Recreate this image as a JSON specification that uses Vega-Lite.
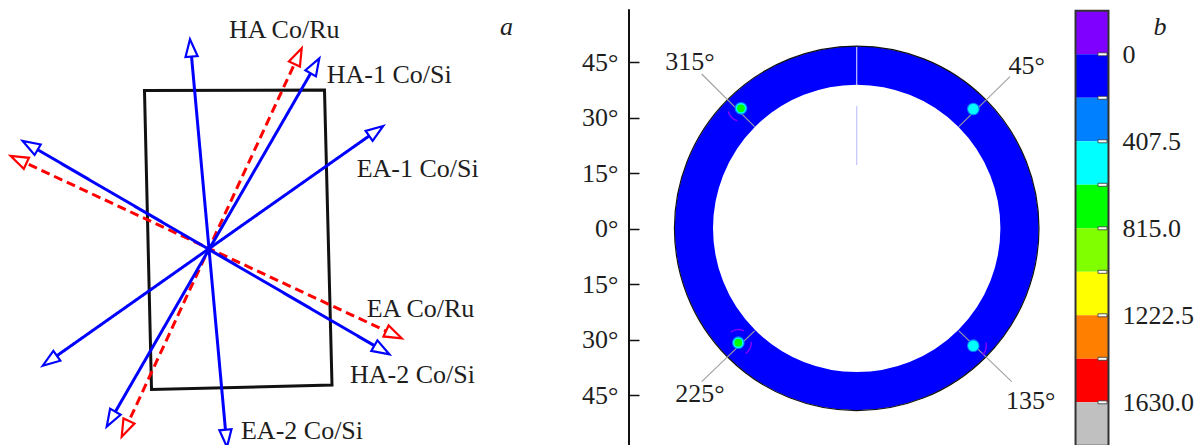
{
  "$schema": "https://vega.github.io/schema/vega-lite/v6.json",
  "width": 1194,
  "height": 445,
  "autosize": {"type": "none"},
  "padding": 0,
  "background": "white",
  "config": {"view": {"stroke": null}, "font": "Liberation Serif"},
  "resolve": {"scale": {"y": "independent"}},
  "layer": [
    {
      "encoding": {
        "x": {"field": "x", "type": "quantitative", "scale": {"domain": [-231.54, 91.16], "nice": false, "zero": false}, "axis": null},
        "y": {"field": "y", "type": "quantitative", "scale": {"domain": [-58.46, 61.81], "nice": false, "zero": false},
          "axis": {"orient": "left", "offset": -629, "values": [-45, -30, -15, 0, 15, 30, 45], "labelExpr": "abs(datum.value) + '°'", "domain": false, "grid": false, "ticks": true, "tickSize": -10, "tickWidth": 1.5, "tickColor": "#111", "labelPadding": 21, "labelFont": "Liberation Serif", "labelFontSize": 26, "labelColor": "#1e1e1e", "title": null, "labelBaseline": "middle"}}
      },
      "layer": [
        {
          "data": {"values": [
            {"x": -192.49, "y": 37.35, "o": 1},
            {"x": -143.84, "y": 37.49, "o": 2},
            {"x": -141.81, "y": -42.24, "o": 3},
            {"x": -190.59, "y": -43.46, "o": 4},
            {"x": -192.49, "y": 37.35, "o": 5}
          ]},
          "mark": {"type": "line", "color": "#111", "strokeWidth": 3, "strokeJoin": "miter", "strokeCap": "square"},
          "encoding": {"order": {"field": "o", "type": "quantitative"}}
        },
        {
          "data": {"values": [
            {"x": -150.67, "y": 47.31, "x2": -197.98, "y2": -54.77, "kind": "Co/Ru"},
            {"x": -227.20, "y": 18.97, "x2": -124.42, "y2": -28.94, "kind": "Co/Ru"},
            {"x": -180.05, "y": 49.60, "x2": -170.33, "y2": -57.41, "kind": "Co/Si"},
            {"x": -146.04, "y": 44.66, "x2": -201.90, "y2": -52.12, "kind": "Co/Si"},
            {"x": -129.26, "y": 26.84, "x2": -218.69, "y2": -36.11, "kind": "Co/Si"},
            {"x": -224.03, "y": 22.90, "x2": -127.70, "y2": -33.15, "kind": "Co/Si"}
          ]},
          "mark": {"type": "rule", "strokeWidth": 3},
          "encoding": {
            "x2": {"field": "x2"},
            "y2": {"field": "y2"},
            "stroke": {"field": "kind", "type": "nominal", "scale": {"domain": ["Co/Si", "Co/Ru"], "range": ["#0000ff", "#ff0000"]}, "legend": null},
            "strokeDash": {"field": "kind", "type": "nominal", "scale": {"domain": ["Co/Si", "Co/Ru"], "range": [[1, 0], [9, 5]]}, "legend": null}
          }
        },
        {
          "data": {"values": [
            {"x": -180.19, "y": 51.19, "angle": -5.19, "kind": "Co/Si"},
            {"x": -170.19, "y": -59.0, "angle": 174.81, "kind": "Co/Si"},
            {"x": -145.24, "y": 46.05, "angle": 30, "kind": "Co/Si"},
            {"x": -202.70, "y": -53.51, "angle": 210, "kind": "Co/Si"},
            {"x": -150.0, "y": 48.76, "angle": 24.86, "kind": "Co/Ru"},
            {"x": -198.65, "y": -56.22, "angle": 204.86, "kind": "Co/Ru"},
            {"x": -127.95, "y": 27.76, "angle": 54.86, "kind": "Co/Si"},
            {"x": -220.0, "y": -37.03, "angle": 234.86, "kind": "Co/Si"},
            {"x": -225.41, "y": 23.70, "angle": -59.81, "kind": "Co/Si"},
            {"x": -126.32, "y": -33.95, "angle": 120.19, "kind": "Co/Si"},
            {"x": -228.65, "y": 19.65, "angle": -65.01, "kind": "Co/Ru"},
            {"x": -122.97, "y": -29.62, "angle": 114.99, "kind": "Co/Ru"}
          ]},
          "mark": {"type": "point", "shape": "M0,0L-0.7,2L0.7,2Z", "size": 300, "filled": true, "fill": "white", "strokeWidth": 2.2, "opacity": 1},
          "encoding": {
            "angle": {"field": "angle", "type": "quantitative", "scale": null},
            "stroke": {"field": "kind", "type": "nominal", "scale": {"domain": ["Co/Si", "Co/Ru"], "range": ["#0000ff", "#ff0000"]}, "legend": null}
          }
        },
        {
          "data": {"values": [
            {"x": -169.65, "y": 51.41, "t": "HA Co/Ru"},
            {"x": -143.24, "y": 39.30, "t": "HA-1 Co/Si"},
            {"x": -135.14, "y": 14.05, "t": "EA-1 Co/Si"},
            {"x": -132.43, "y": -23.78, "t": "EA Co/Ru"},
            {"x": -136.95, "y": -41.78, "t": "HA-2 Co/Si"},
            {"x": -166.41, "y": -56.9, "t": "EA-2 Co/Si"}
          ]},
          "mark": {"type": "text", "align": "left", "baseline": "alphabetic", "fontSize": 26, "font": "Liberation Serif", "color": "#1e1e1e"},
          "encoding": {"text": {"field": "t"}}
        },
        {
          "data": {"values": [
            {"x": -94.65, "y": 52.35, "t": "a"},
            {"x": 81.97, "y": 52.35, "t": "b"}
          ]},
          "mark": {"type": "text", "align": "center", "baseline": "alphabetic", "fontSize": 26, "fontStyle": "italic", "font": "Liberation Serif", "color": "#1e1e1e"},
          "encoding": {"text": {"field": "t"}}
        },
        {
          "data": {"values": [{"x": -61.54, "y": 59.3, "y2": -60}]},
          "mark": {"type": "rule", "color": "#111", "strokeWidth": 2},
          "encoding": {"y2": {"field": "y2"}}
        },
        {
          "data": {"values": [{"x": 0, "y": 0.1, "level": 0}]},
          "mark": {"type": "point", "shape": "circle", "filled": false, "size": 106080, "strokeWidth": 38.3, "opacity": 1},
          "encoding": {"color": {"field": "level", "type": "ordinal", "scale": {"domain": [-203.75, 0, 203.75, 407.5, 611.25, 815, 1018.75, 1222.5, 1426.25, 1630], "range": ["#8000ff", "#0000ff", "#0080ff", "#00ffff", "#00ff00", "#80ff00", "#ffff00", "#ff8000", "#ff0000", "#c0c0c0"]}, "legend": null}}
        },
        {
          "data": {"values": [{"x": 0, "y": 0.1}]},
          "mark": {"type": "point", "shape": "circle", "filled": false, "size": 132900, "strokeWidth": 1.2, "color": "#111", "opacity": 1}
        },
        {
          "data": {"values": [{"x": 0, "y": 49.1, "y2": 38.84}, {"x": 0, "y": 33.16, "y2": 17.22}]},
          "mark": {"type": "rule", "color": "#c4c4ff", "strokeWidth": 1.2},
          "encoding": {"y2": {"field": "y2"}}
        },
        {
          "data": {"values": [
            {"x": -41.89, "y": 41.81, "x2": -27.6, "y2": 27.6},
            {"x": 41.43, "y": 41.08, "x2": 27.6, "y2": 27.6},
            {"x": -41.89, "y": -41.35, "x2": -27.6, "y2": -27.6},
            {"x": 41.89, "y": -41.35, "x2": 27.6, "y2": -27.6}
          ]},
          "mark": {"type": "rule", "color": "#a0a0a0", "strokeWidth": 1.1},
          "encoding": {"x2": {"field": "x2"}, "y2": {"field": "y2"}}
        },
        {
          "data": {"values": [
            {"x": -31.27, "y": 32.54, "level": 203.75},
            {"x": 31.51, "y": 32.35, "level": 203.75},
            {"x": -32.0, "y": -30.81, "level": 203.75},
            {"x": 31.51, "y": -31.62, "level": 203.75},
            {"x": -31.27, "y": 32.54, "level": 407.5},
            {"x": 31.51, "y": 32.35, "level": 407.5},
            {"x": -32.0, "y": -30.81, "level": 407.5},
            {"x": 31.51, "y": -31.62, "level": 407.5},
            {"x": -31.27, "y": 32.54, "level": 611.25},
            {"x": -32.0, "y": -30.81, "level": 611.25}
          ]},
          "mark": {"type": "point", "shape": "circle", "filled": true, "opacity": 1, "strokeWidth": 0},
          "encoding": {
            "color": {"field": "level", "type": "ordinal", "scale": {"domain": [-203.75, 0, 203.75, 407.5, 611.25, 815, 1018.75, 1222.5, 1426.25, 1630], "range": ["#8000ff", "#0000ff", "#0080ff", "#00ffff", "#00ff00", "#80ff00", "#ffff00", "#ff8000", "#ff0000", "#c0c0c0"]}, "legend": null},
            "size": {"field": "level", "type": "ordinal", "scale": {"domain": [203.75, 407.5, 611.25], "range": [160, 60, 12]}, "legend": null}
          }
        },
        {
          "data": {"values": [
            {"x": -31.27, "y": 32.54, "angle": 136.5, "level": -203.75},
            {"x": -32.0, "y": -30.81, "angle": -95, "level": -203.75},
            {"x": -32.0, "y": -30.81, "angle": 26.5, "level": -203.75},
            {"x": 31.51, "y": -31.62, "angle": 15, "level": -203.75}
          ]},
          "mark": {"type": "point", "shape": "M0.866,-0.5A1,1 0 0 1 0.866,0.5", "filled": false, "size": 676, "strokeWidth": 1.5, "opacity": 1},
          "encoding": {
            "angle": {"field": "angle", "type": "quantitative", "scale": null},
            "color": {"field": "level", "type": "ordinal", "scale": {"domain": [-203.75, 0, 203.75, 407.5, 611.25, 815, 1018.75, 1222.5, 1426.25, 1630], "range": ["#8000ff", "#0000ff", "#0080ff", "#00ffff", "#00ff00", "#80ff00", "#ffff00", "#ff8000", "#ff0000", "#c0c0c0"]}, "legend": null}
          }
        },
        {
          "data": {"values": [
            {"x": -45.05, "y": 42.89, "t": "315°"},
            {"x": 45.95, "y": 41.81, "t": "45°"},
            {"x": -42.35, "y": -46.76, "t": "225°"},
            {"x": 47.05, "y": -48.81, "t": "135°"}
          ]},
          "mark": {"type": "text", "align": "center", "baseline": "alphabetic", "fontSize": 26, "font": "Liberation Serif", "color": "#1e1e1e"},
          "encoding": {"text": {"field": "t"}}
        }
      ]
    },
    {
      "layer": [
        {
          "data": {"values": [
            {"level": -203.75, "hi": 0},
            {"level": 0, "hi": 203.75},
            {"level": 203.75, "hi": 407.5},
            {"level": 407.5, "hi": 611.25},
            {"level": 611.25, "hi": 815},
            {"level": 815, "hi": 1018.75},
            {"level": 1018.75, "hi": 1222.5},
            {"level": 1222.5, "hi": 1426.25},
            {"level": 1426.25, "hi": 1630},
            {"level": 1630, "hi": 1833.75}
          ]},
          "mark": {"type": "rect"},
          "encoding": {
            "x": {"datum": 59.14, "type": "quantitative", "scale": {"domain": [-231.54, 91.16], "nice": false, "zero": false}, "axis": null},
            "x2": {"datum": 68.05},
            "y": {"field": "level", "type": "quantitative", "scale": {"domain": [-254.3, 1830.0], "reverse": true, "nice": false, "zero": false},
              "axis": {"orient": "right", "offset": -85, "values": [0, 407.5, 815, 1222.5, 1630], "labelExpr": "datum.value == 0 ? '0' : format(datum.value, '.1f')", "ticks": false, "domain": false, "grid": false, "labelPadding": 13, "labelFont": "Liberation Serif", "labelFontSize": 26, "labelColor": "#1e1e1e", "title": null, "labelBaseline": "middle"}},
            "y2": {"field": "hi"},
            "color": {"field": "level", "type": "ordinal", "scale": {"domain": [-203.75, 0, 203.75, 407.5, 611.25, 815, 1018.75, 1222.5, 1426.25, 1630], "range": ["#8000ff", "#0000ff", "#0080ff", "#00ffff", "#00ff00", "#80ff00", "#ffff00", "#ff8000", "#ff0000", "#c0c0c0"]}, "legend": null}
          }
        },
        {
          "data": {"values": [{"level": -203.75, "hi": 1833.75}]},
          "mark": {"type": "rect", "filled": false, "stroke": "#333", "strokeWidth": 2},
          "encoding": {
            "x": {"datum": 59.14, "type": "quantitative"},
            "x2": {"datum": 68.05},
            "y": {"field": "level", "type": "quantitative"},
            "y2": {"field": "hi"}
          }
        },
        {
          "data": {"values": [
            {"level": 0}, {"level": 203.75}, {"level": 407.5}, {"level": 611.25}, {"level": 815},
            {"level": 1018.75}, {"level": 1222.5}, {"level": 1426.25}, {"level": 1630}
          ]},
          "mark": {"type": "tick", "orient": "horizontal", "size": 9, "thickness": 3, "fill": "white", "stroke": "#333", "strokeWidth": 0.8, "opacity": 1},
          "encoding": {
            "x": {"datum": 66.43, "type": "quantitative"},
            "y": {"field": "level", "type": "quantitative"}
          }
        }
      ]
    }
  ]
}
